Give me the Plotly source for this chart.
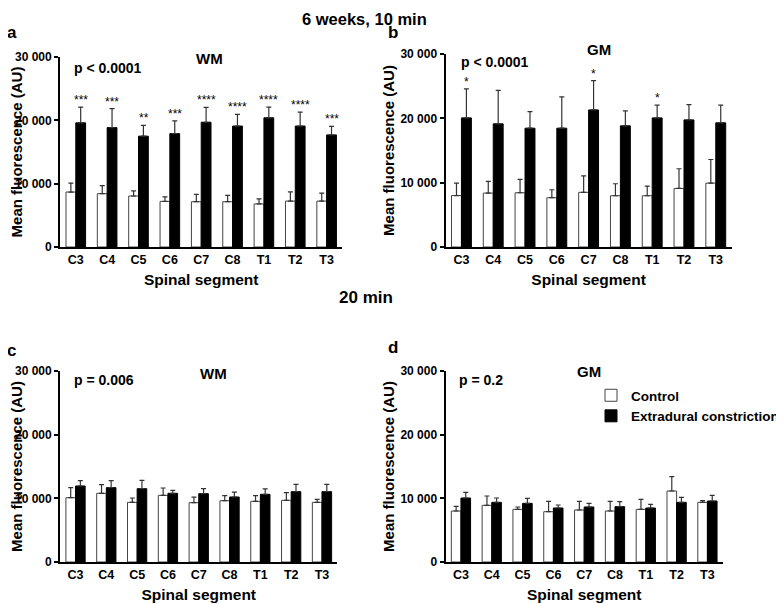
import plotly.graph_objects as go

FONT = "Liberation Sans, Arial, sans-serif"

segments = ["C3", "C4", "C5", "C6", "C7", "C8", "T1", "T2", "T3"]
y_ticks = [0, 10000, 20000, 30000]
y_tick_labels = ["0", "10 000", "20 000", "30 000"]

# panel a: 10 min, white matter
a_ctrl = [8680, 8420, 8050, 7200, 7150, 7150, 6800, 7250, 7250]
a_ctrl_err = [1420, 1280, 800, 700, 1150, 1000, 800, 1450, 1250]
a_edc = [19600, 18850, 17500, 17900, 19700, 19100, 20400, 19100, 17700]
a_edc_err = [2500, 3000, 1700, 2000, 2350, 1850, 1700, 2200, 1350]
a_stars = ["***", "***", "**", "***", "****", "****", "****", "****", "***"]

# panel b: 10 min, grey matter
b_ctrl = [8000, 8380, 8430, 7660, 8500, 7970, 7970, 9100, 9930]
b_ctrl_err = [1930, 1820, 2070, 1240, 2570, 1860, 1500, 3060, 3670]
b_edc = [20070, 19140, 18470, 18470, 21310, 18830, 20070, 19760, 19300]
b_edc_err = [4500, 5220, 2580, 4860, 4550, 2330, 1970, 2380, 2740]
b_stars = ["*", "", "", "", "*", "", "*", "", ""]

# panel c: 20 min, white matter
c_ctrl = [10100, 10790, 9370, 10470, 9320, 9630, 9530, 9690, 9370]
c_ctrl_err = [1580, 1360, 680, 1150, 880, 790, 890, 1200, 470]
c_edc = [11940, 11680, 11520, 10790, 10730, 10210, 10630, 11050, 11050]
c_edc_err = [830, 1090, 1310, 470, 790, 780, 840, 1150, 1150]

# panel d: 20 min, grey matter
d_ctrl = [8010, 8900, 8270, 7900, 8170, 8010, 8270, 11150, 9370]
d_ctrl_err = [730, 1470, 370, 1630, 1360, 1520, 1570, 2250, 260]
d_edc = [10050, 9370, 9210, 8480, 8640, 8690, 8480, 9370, 9580]
d_edc_err = [890, 680, 790, 470, 570, 790, 580, 790, 890]

# page body keeps its 8px margin, so the figure is 776x596 and sits at (8, 8)
W, H, OFF = 776, 596, 8


def px_x(px):
    return (px - OFF) / W


def px_y(py):
    return 1 - (py - OFF) / H


panels = [
    dict(ctrl=a_ctrl, ctrl_err=a_ctrl_err, edc=a_edc, edc_err=a_edc_err, stars=a_stars,
         title="WM", title_pos=(213, 58), p="p < 0.0001", p_pos=(73, 68),
         letter="a", letter_pos=(12, 33), box=(61, 348, 57, 247)),
    dict(ctrl=b_ctrl, ctrl_err=b_ctrl_err, edc=b_edc, edc_err=b_edc_err, stars=b_stars,
         title="GM", title_pos=(609, 49), p="p < 0.0001", p_pos=(467, 62),
         letter="b", letter_pos=(400, 33), box=(453, 744, 54, 247)),
    dict(ctrl=c_ctrl, ctrl_err=c_ctrl_err, edc=c_edc, edc_err=c_edc_err, stars=None,
         title="WM", title_pos=(217, 373), p="p = 0.006", p_pos=(73, 380),
         letter="c", letter_pos=(12, 350), box=(61, 343, 371, 562)),
    dict(ctrl=d_ctrl, ctrl_err=d_ctrl_err, edc=d_edc, edc_err=d_edc_err, stars=None,
         title="GM", title_pos=(599, 371), p="p = 0.2", p_pos=(465, 380),
         letter="d", letter_pos=(400, 347), box=(453, 735, 371, 562)),
]

fig = go.Figure()
annotations = []
layout_axes = {}


def bold(size, color="black"):
    return dict(family=FONT, size=size, color=color, weight="bold")


for i, p in enumerate(panels):
    n = "" if i == 0 else str(i + 1)
    xa, ya = "x" + n, "y" + n
    show_leg = (i == 3)

    fig.add_trace(go.Bar(
        x=segments, y=p["ctrl"], name="Control", xaxis=xa, yaxis=ya,
        marker=dict(color="white", line=dict(color="#444444", width=1)),
        error_y=dict(type="data", symmetric=False, array=p["ctrl_err"],
                     arrayminus=[0] * len(segments), color="#333333", thickness=1.2, width=2.5),
        showlegend=show_leg, legendgroup="ctrl"
    ))
    fig.add_trace(go.Bar(
        x=segments, y=p["edc"], name="Extradural constriction", xaxis=xa, yaxis=ya,
        marker=dict(color="black", line=dict(color="black", width=1)),
        error_y=dict(type="data", symmetric=False, array=p["edc_err"],
                     arrayminus=[0] * len(segments), color="#333333", thickness=1.2, width=2.5),
        showlegend=show_leg, legendgroup="edc"
    ))

    left, right, top, bottom = p["box"]
    layout_axes["xaxis" + n] = dict(
        domain=[px_x(left), px_x(right)], anchor=ya,
        showline=True, linecolor="black", linewidth=2,
        ticks="", range=[-0.5, 8.5], tickfont=bold(12.5), automargin=False,
        title=dict(text="Spinal segment", standoff=8, font=bold(15.5)),
        showgrid=False, zeroline=False
    )
    layout_axes["yaxis" + n] = dict(
        domain=[px_y(bottom), px_y(top)], anchor=xa,
        showline=True, linecolor="black", linewidth=2,
        ticks="outside", ticklen=4, tickcolor="black", tickwidth=1.5,
        range=[0, 30000], tickvals=y_ticks, ticktext=y_tick_labels,
        tickfont=bold(12), automargin=False,
        title=dict(text="Mean fluorescence (AU)", standoff=2, font=bold(15)),
        showgrid=False, zeroline=False
    )

    # panel title, p-value and panel letter
    annotations.append(dict(text=p["title"], xref="paper", yref="paper",
                            x=px_x(p["title_pos"][0]), y=px_y(p["title_pos"][1]),
                            xanchor="center", yanchor="middle", showarrow=False, font=bold(15)))
    annotations.append(dict(text=p["p"], xref="paper", yref="paper",
                            x=px_x(p["p_pos"][0]), y=px_y(p["p_pos"][1]),
                            xanchor="left", yanchor="middle", showarrow=False, font=bold(14)))
    annotations.append(dict(text=p["letter"], xref="paper", yref="paper",
                            x=px_x(p["letter_pos"][0]), y=px_y(p["letter_pos"][1]),
                            xanchor="center", yanchor="middle", showarrow=False, font=bold(17)))

    if p["stars"]:
        for k, s in enumerate(p["stars"]):
            if not s:
                continue
            annotations.append(dict(text=s, xref=xa, yref=ya,
                                    x=k + 0.16, y=p["edc"][k] + p["edc_err"][k],
                                    xanchor="center", yanchor="bottom", yshift=-2, showarrow=False,
                                    font=dict(family=FONT, size=12, color="black")))

# main title sits against the top edge of the figure
annotations.append(dict(text="6 weeks, 10 min", xref="paper", yref="paper",
                        x=px_x(371), y=1.0, xanchor="center", yanchor="top",
                        showarrow=False, font=bold(16.5)))
annotations.append(dict(text="20 min", xref="paper", yref="paper",
                        x=px_x(372), y=px_y(297), xanchor="center", yanchor="middle",
                        showarrow=False, font=bold(17)))

fig.update_layout(
    width=W, height=H,
    margin=dict(l=0, r=0, t=0, b=0),
    paper_bgcolor="white", plot_bgcolor="white",
    barmode="group", bargap=0.375, bargroupgap=0,
    annotations=annotations,
    legend=dict(x=px_x(601), y=px_y(380), xanchor="left", yanchor="top",
                bgcolor="rgba(0,0,0,0)", tracegroupgap=0, itemwidth=30,
                font=bold(13.5)),
    **layout_axes
)

fig.write_html("out.html", config={"displayModeBar": False})
